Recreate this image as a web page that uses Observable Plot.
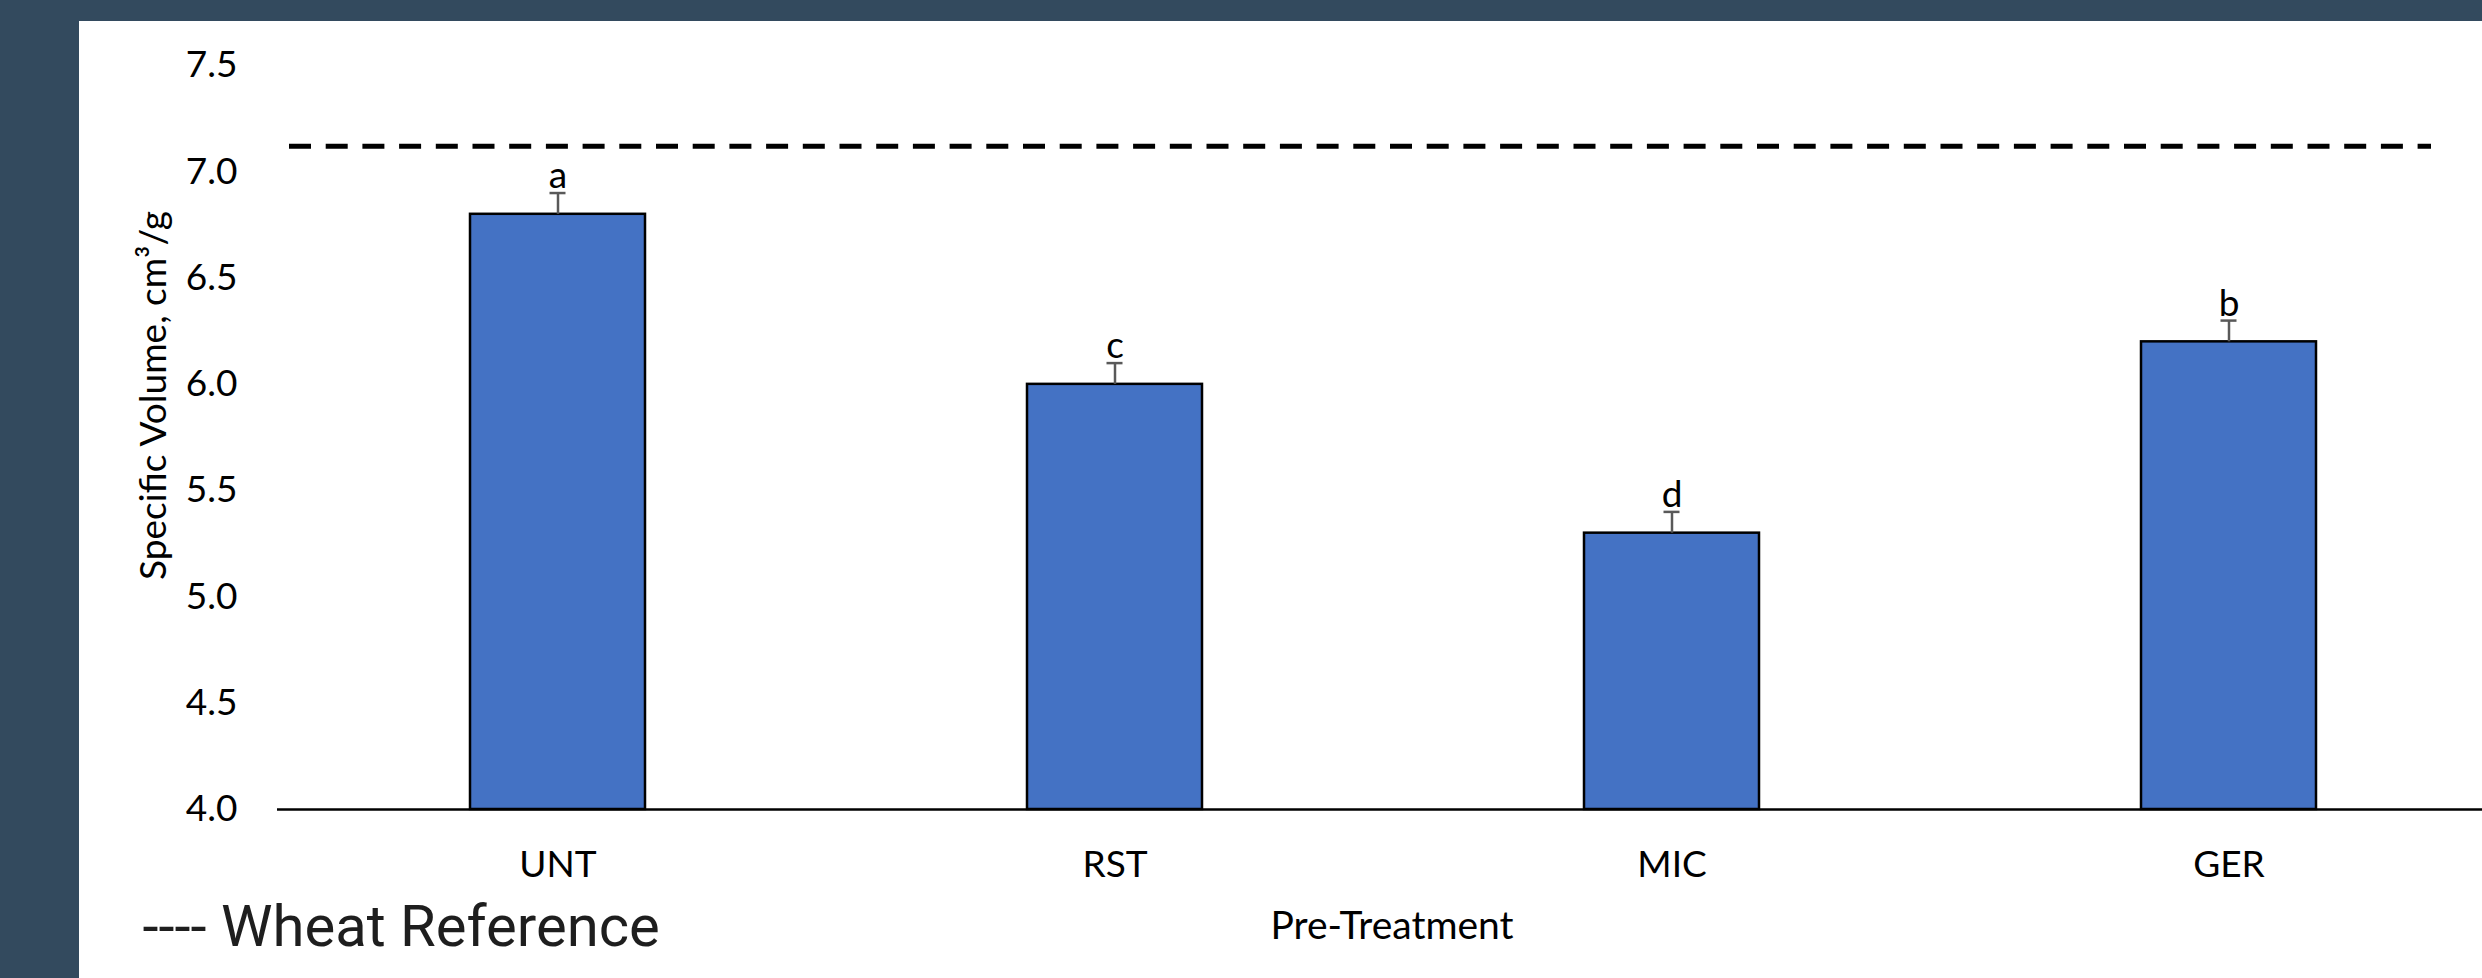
<!DOCTYPE html>
<html><head><meta charset="utf-8">
<script src="https://cdn.jsdelivr.net/npm/d3@7"></script>
<script src="https://cdn.jsdelivr.net/npm/@observablehq/plot@0.6"></script>
<style>
html,body{margin:0;padding:0;overflow:hidden;background:#334a5e;width:2482px;height:978px;}
#panel{position:absolute;left:79px;top:21px;right:0;bottom:0;background:#fff;}
#chart{position:absolute;left:0;top:0;}
</style></head><body>
<div id="panel"></div><div id="chart"></div>
<script>
const categories = ["UNT", "RST", "MIC", "GER"];
const values = [6.8, 6.0, 5.3, 6.2];
const errors = [0.1, 0.1, 0.1, 0.1];
const letters = ["a", "c", "d", "b"];
const yTicks = [4.0, 4.5, 5.0, 5.5, 6.0, 6.5, 7.0, 7.5];
const wheatReference = 7.12;
const yTitle = "Specific Volume, cm³/g";
const xTitle = "Pre-Treatment";
const legendText = "---- Wheat Reference";

const data = categories.map((c, i) => ({cat: c, value: values[i], top: values[i] + errors[i], letter: letters[i]}));

const W = 2482, H = 978;
const chart = Plot.plot({
  width: W, height: H,
  marginLeft: 277, marginRight: 0, marginTop: 65, marginBottom: 169,
  style: {background: "transparent", overflow: "visible", fontFamily: "Lato", color: "#000"},
  x: {domain: categories, range: [277, 2508], paddingInner: 0.686, paddingOuter: 0.343, align: 0.5},
  y: {domain: [4, 7.5]},
  marks: [
    Plot.axisY(yTicks, {tickSize: 0, tickPadding: 40, tickFormat: d3.format(".1f"), fontSize: 37, label: null, fill: "#000"}),
    Plot.axisX({tickSize: 0, tickPadding: 41, fontSize: 37, label: null, fill: "#000"}),
    Plot.barY(data, {x: "cat", y1: 4, y2: "value", fill: "#4472c4", stroke: "#000", strokeWidth: 2.5}),
    Plot.ruleX(data, {x: "cat", y1: "value", y2: "top", stroke: "#595959", strokeWidth: 2.5}),
    Plot.tickY(data, {x: "cat", y: "top", stroke: "#595959", strokeWidth: 2.5, insetLeft: 79.5, insetRight: 79.5}),
    Plot.text(data, {x: "cat", y: "top", text: "letter", dy: -5, lineAnchor: "bottom", fontSize: 37, fill: "#000"}),
    Plot.ruleY([wheatReference], {stroke: "#000", strokeWidth: 5, strokeDasharray: "22,14.7", insetLeft: 12, insetRight: 51}),
    Plot.ruleX([0], {x: () => 277, y1: 4, y2: 7.5, stroke: "#000", strokeWidth: 2.5}),
    Plot.ruleY([4], {stroke: "#000", strokeWidth: 2.5}),
    Plot.text([yTitle], {frameAnchor: "left", dx: -123, dy: -42, rotate: -90, textAnchor: "middle", lineAnchor: "middle", fontSize: 37, fill: "#000"}),
    Plot.text([xTitle], {frameAnchor: "bottom", dx: 12, dy: 117, textAnchor: "middle", lineAnchor: "middle", fontSize: 39, fill: "#000"}),
    Plot.text([legendText], {frameAnchor: "bottom-left", dx: -135, dy: 118, textAnchor: "start", lineAnchor: "middle", fontSize: 58, fontFamily: "Roboto", fill: "#1e1e1e"})
  ]
});
document.getElementById("chart").appendChild(chart);
</script>
</body></html>
